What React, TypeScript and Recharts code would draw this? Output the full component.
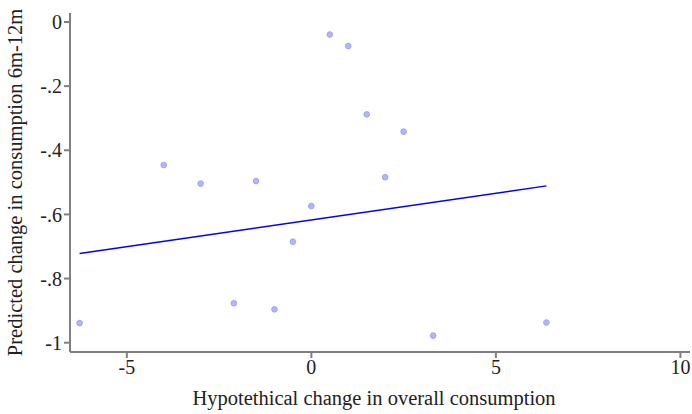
import React from "react";
import {
  ScatterChart,
  Scatter,
  XAxis,
  YAxis,
  Label,
} from "recharts";

// hypothetical change in overall consumption
const changeX = [0.5, 1.0, 1.5, 2.5, 2.0, -4.0, -3.0, -1.5, 0.0, -0.5, -2.1, -1.0, -6.28, 3.3, 6.37];
// predicted change in consumption 6m-12m
const predictedY = [-0.039, -0.075, -0.288, -0.342, -0.484, -0.446, -0.504, -0.496, -0.574, -0.685, -0.877, -0.896, -0.939, -0.978, -0.937];

// fitted line endpoints
const fitX = [-6.28, 6.37];
const fitY = [-0.722, -0.511];

const xTicks = [-5, 0, 5, 10];
const yTicks = [0, -0.2, -0.4, -0.6, -0.8, -1];

const points = changeX.map((x, i) => ({ x, y: predictedY[i] }));
const fitLine = fitX.map((x, i) => ({ x, y: fitY[i] }));

const FONT = "'Liberation Serif', 'DejaVu Serif', serif";
const AXIS = "#7f7f7f";
const TEXT = "#222";

const fmtY = (v: number) => {
  if (v === 0) return "0";
  if (v === -1) return "-1";
  return "-" + Math.abs(v).toFixed(1).replace(/^0/, "");
};

const Dot = (props: any) => (
  <circle cx={props.cx} cy={props.cy} r={2.8} fill="#b4b4ff" stroke="#a0a0ff" strokeWidth={1} />
);

const YTitle = (props: any) => {
  const vb = props.viewBox || {};
  const cy = vb.y + vb.height / 2;
  return (
    <text
      x={15}
      y={cy}
      transform={`rotate(-90, 15, ${cy})`}
      textAnchor="middle"
      dominantBaseline="central"
      fill={TEXT}
      fontSize={20.5}
      fontFamily={FONT}
    >
      Predicted change in consumption 6m-12m
    </text>
  );
};

const XTitle = () => (
  <text
    x={374}
    y={398}
    textAnchor="middle"
    dominantBaseline="central"
    fill={TEXT}
    fontSize={20.5}
    fontFamily={FONT}
  >
    Hypotethical change in overall consumption
  </text>
);

const App = () => {
  return (
    <div style={{ position: "absolute", left: 0, top: 0, background: "#fff" }}>
      <ScatterChart
        width={692}
        height={414}
        margin={{ top: 13, right: 2, bottom: 0, left: 0 }}
      >
        <XAxis
          type="number"
          dataKey="x"
          domain={[-6.54, 10.26]}
          ticks={xTicks}
          allowDataOverflow
          height={62}
          stroke={AXIS}
          strokeWidth={2}
          tickSize={6}
          tick={{ fill: TEXT, fontSize: 20, fontFamily: FONT }}
        >
          <Label content={<XTitle />} />
        </XAxis>
        <YAxis
          type="number"
          dataKey="y"
          domain={[-1.029, 0.028]}
          ticks={yTicks}
          allowDataOverflow
          width={70}
          stroke={AXIS}
          strokeWidth={2}
          tickSize={6}
          tickFormatter={fmtY}
          tick={{ fill: TEXT, fontSize: 20, fontFamily: FONT }}
        >
          <Label content={<YTitle />} />
        </YAxis>
        <Scatter
          data={points}
          shape={<Dot />}
          isAnimationActive={false}
        />
        <Scatter
          data={fitLine}
          line={{ stroke: "#0000ff", strokeWidth: 1.5 }}
          shape={() => null}
          isAnimationActive={false}
        />
      </ScatterChart>
    </div>
  );
};

export default App;
